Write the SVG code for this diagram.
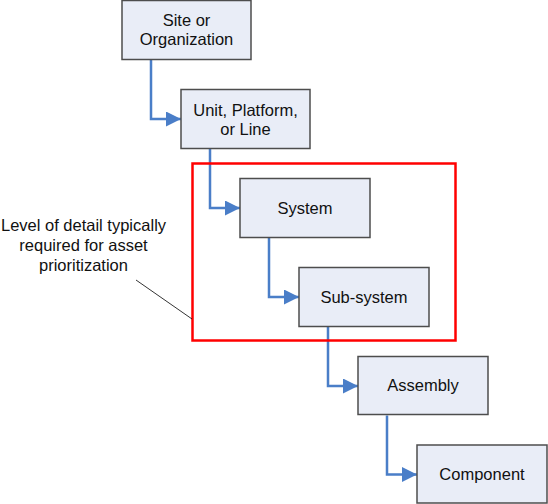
<svg xmlns="http://www.w3.org/2000/svg" width="548" height="504" viewBox="0 0 548 504">
<defs>
<style>
.box{fill:#E9EDF7;stroke:#4D4D4D;stroke-width:1.5}
.t{font-family:"Liberation Sans",Arial,sans-serif;font-size:16.5px;fill:#111;text-anchor:middle}
.c{fill:none;stroke:#4A7EC8;stroke-width:2.5}
</style>
<marker id="ah" markerUnits="userSpaceOnUse" markerWidth="16" markerHeight="16" refX="15" refY="7.5" orient="auto">
<path d="M0,0 L15,7.5 L0,15 Z" fill="#4A7EC8"/>
</marker>
</defs>
<rect width="548" height="504" fill="#fff"/>
<g id="connectors">
<path class="c" d="M151,59.5 V119 H181" marker-end="url(#ah)"/>
<path class="c" d="M210,148.5 V208 H240" marker-end="url(#ah)"/>
<path class="c" d="M269,237.5 V297 H299" marker-end="url(#ah)"/>
<path class="c" d="M328,326.5 V386 H358" marker-end="url(#ah)"/>
<path class="c" d="M387,415.5 V474.5 H417" marker-end="url(#ah)"/>
</g>
<g id="site">
<rect class="box" x="122" y="0.5" width="129" height="59"/>
<text class="t" x="186.5" y="26">Site or</text>
<text class="t" x="186.5" y="45">Organization</text>
</g>
<g id="unit">
<rect class="box" x="181" y="89.5" width="129" height="59"/>
<text class="t" x="245.5" y="115.5">Unit, Platform,</text>
<text class="t" x="245.5" y="134.5">or Line</text>
</g>
<g id="system">
<rect class="box" x="240" y="178.5" width="130" height="59"/>
<text class="t" x="305" y="213.5">System</text>
</g>
<g id="subsystem">
<rect class="box" x="299" y="267.5" width="130" height="59"/>
<text class="t" x="364" y="302.5">Sub-system</text>
</g>
<g id="assembly">
<rect class="box" x="358" y="356.5" width="130" height="58"/>
<text class="t" x="423" y="391">Assembly</text>
</g>
<g id="component">
<rect class="box" x="417" y="445" width="130" height="58"/>
<text class="t" x="482" y="480">Component</text>
</g>
<g id="highlight">
<rect x="192.5" y="163.5" width="263" height="177" fill="none" stroke="#FF0000" stroke-width="2.5"/>
</g>
<g id="callout">
<line x1="136" y1="280" x2="192" y2="319" stroke="#000" stroke-width="0.8"/>
<text class="t" x="83.5" y="231">Level of detail typically</text>
<text class="t" x="83.5" y="251">required for asset</text>
<text class="t" x="83.5" y="271">prioritization</text>
</g>
</svg>
